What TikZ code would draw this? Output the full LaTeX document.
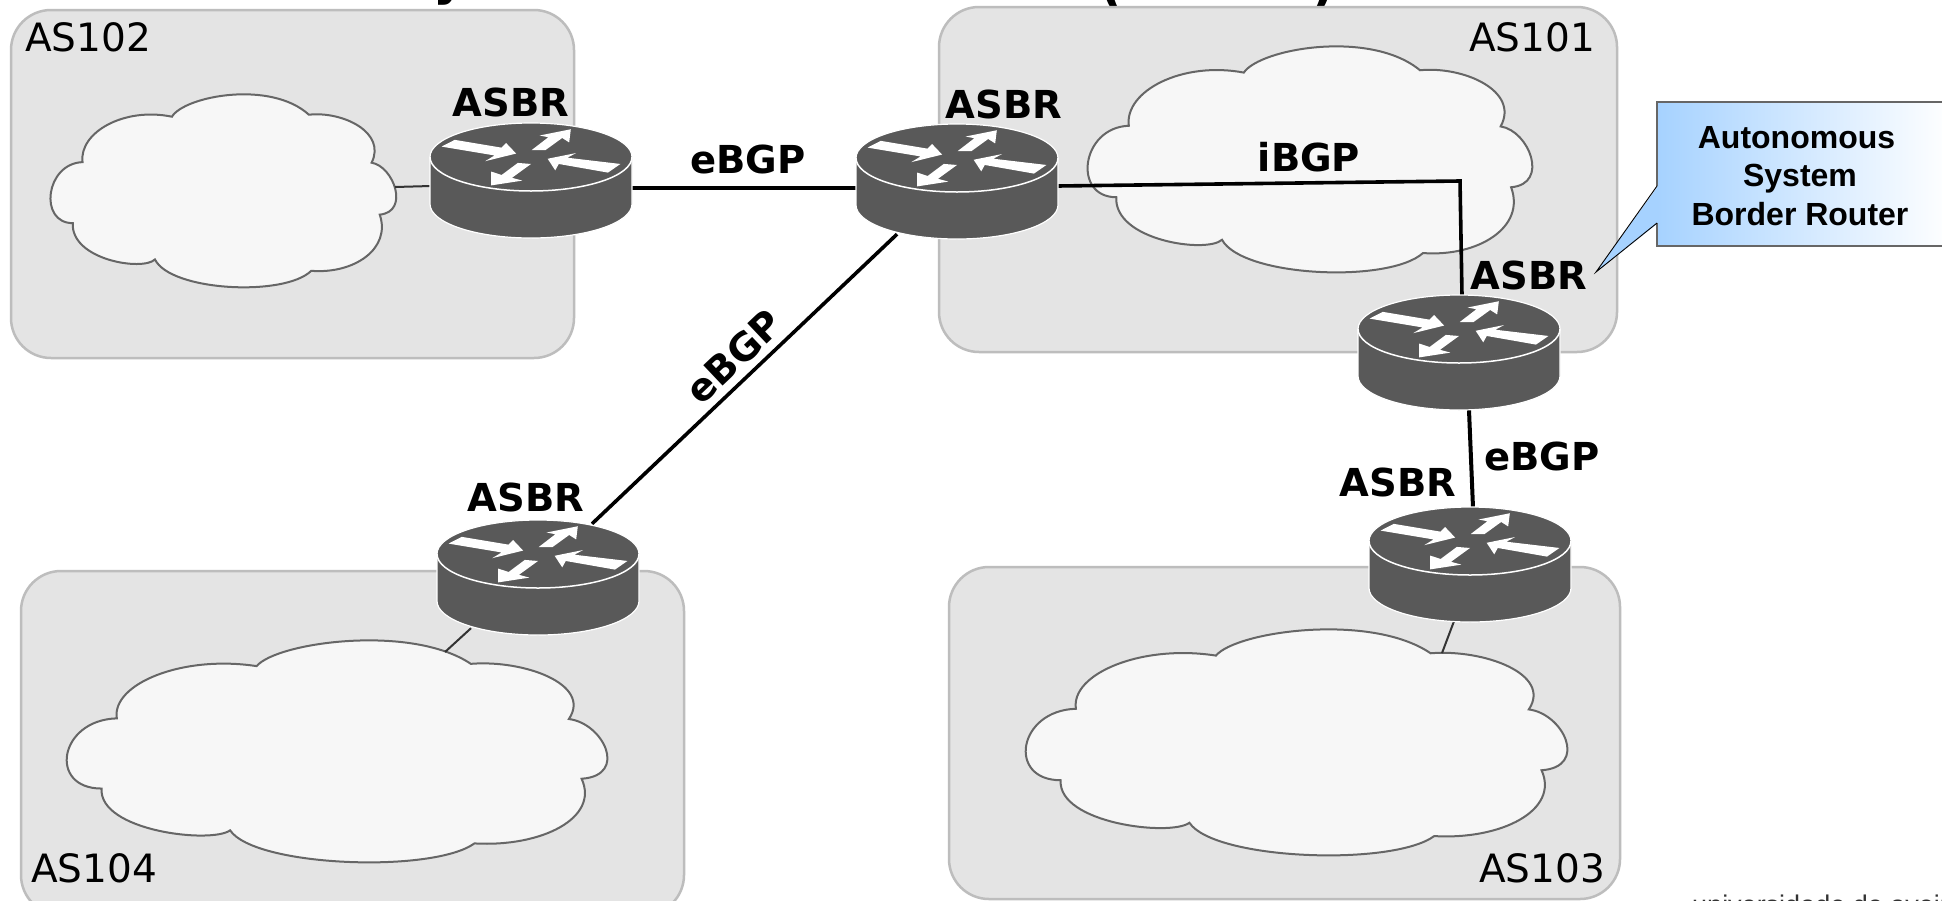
\documentclass[tikz,border=0pt]{standalone}
\usepackage{fontspec}
\setmainfont{DejaVu Sans}
\newfontfamily\calloutfont{Liberation Sans}
\usetikzlibrary{calc}
\definecolor{boxfill}{HTML}{E4E4E4}
\definecolor{boxline}{HTML}{BDBDBD}
\definecolor{cloudfill}{HTML}{F7F7F7}
\definecolor{cloudline}{HTML}{666666}
\definecolor{routerdark}{HTML}{595959}
\definecolor{calloutblue}{HTML}{A6D2FF}
\tikzset{
  asbox/.style={draw=boxline,fill=boxfill,line width=2.5pt,rounded corners=40pt},
  aslabel/.style={font=\fontsize{39}{42}\selectfont,inner sep=0pt},
  boldlabel/.style={font=\fontsize{38.5}{40}\selectfont\bfseries,inner sep=0pt},
  routernode/.style={minimum width=200pt,minimum height=114pt,inner sep=0pt},
  bgplink/.style={line width=4pt,black},
  thinlink/.style={line width=2pt,black!80},
  pics/routericon/.style={code={
    \fill[routerdark,draw=white,line width=1.2pt]
      (-101,0) .. controls (-101,-18.8) and (-55.8,-34) .. (0,-34)
      .. controls (55.8,-34) and (101,-18.8) .. (101,0)
      -- (101,47) .. controls (101,65.8) and (55.8,81) .. (0,81)
      .. controls (-55.8,81) and (-101,65.8) .. (-101,47) -- cycle;
    \draw[white,line width=1.5pt] (-101,0) .. controls (-101,18.8) and (-55.8,34) .. (0,34)
      .. controls (55.8,34) and (101,18.8) .. (101,0);
    \begin{scope}[scale=1.04]
    \fill[white] (-86,-10) -- (-73.3,-16.5) -- (-28.3,-9) -- (-24,-13.5) -- (-14.3,-3.3) -- (-44,4) -- (-35,-1.5) -- cycle;
    \fill[white] (0.7,-6.7) -- (16.7,-19) -- (8.3,-20.7) -- (38.3,-26.7) -- (36.7,-14) -- (30,-18.3) -- (14,-6.7) -- cycle;
    \fill[white] (16,1.7) -- (43.3,-3.8) -- (35,0.7) -- (86,6.7) -- (74,15) -- (26.7,6.7) -- (23.3,12.8) -- cycle;
    \fill[white] (0,6.7) -- (-12.7,5.7) -- (-28.3,17.3) -- (-38.3,14) -- (-38.3,27.3) -- (-8.3,22.7) -- (-18.3,20) -- cycle;
    \end{scope}
  }},
}
\newcommand{\cloudat}[4]{% left, top, width, height
  \begin{scope}[shift={(#1,#2)},xscale=#3/1490,yscale=#4/680]
    \path[fill=cloudfill,draw=cloudline,line width=2pt,line join=miter]
      (140,240) .. controls (125,135) and (320,45) .. (525,80)
      .. controls (580,7) and (950,-50) .. (1115,73)
      .. controls (1260,60) and (1450,135) .. (1385,242)
      .. controls (1480,255) and (1550,415) .. (1420,425)
      .. controls (1470,545) and (1310,635) .. (1125,623)
      .. controls (1010,715) and (520,695) .. (452,583)
      .. controls (400,625) and (90,585) .. (98,455)
      .. controls (-50,455) and (-20,245) .. (140,240) -- cycle;
  \end{scope}}
\begin{document}
\begin{tikzpicture}[x=1pt,y=-1pt]
\useasboundingbox (0,0) rectangle (1942,900);
\clip (0,0) rectangle (1942,900);
\fill[white] (0,0) rectangle (1942,900);

% clipped remains of title and footer
\node[anchor=base,inner sep=0pt,font=\fontsize{50}{50}\selectfont\bfseries] (titley) at (450,-6) {y};
\node[anchor=base,inner sep=0pt,font=\fontsize{50}{50}\selectfont\bfseries] (titleo) at (1112,3) {(};
\node[anchor=base,inner sep=0pt,font=\fontsize{50}{50}\selectfont\bfseries] (titlec) at (1323,3) {)};
\node[anchor=base west,inner sep=0pt,text=black!80,font=\calloutfont\fontsize{27}{30}\selectfont] (footer) at (1692,914) {universidade de aveiro};

% autonomous system areas
\path[asbox] (11,10) rectangle (574,358);
\path[asbox] (939,7) rectangle (1617,352);
\path[asbox] (21,571) rectangle (684,915);
\path[asbox] (949,567) rectangle (1620,899);

% clouds
\cloudat{50}{94}{346}{193}
\cloudat{1087}{46}{445}{226}
\cloudat{66}{640}{541}{222}
\cloudat{1025}{629}{542}{226}

% routers (anchors for connectors)
\node[routernode] (r1) at (531,181) {};
\node[routernode] (r2) at (957,182) {};
\node[routernode] (r3) at (1459,353) {};
\node[routernode] (r4) at (1470,565) {};
\node[routernode] (r5) at (538,578) {};

\coordinate (c1) at (395,187);
\coordinate (c3) at (445,652);
\coordinate (c4) at (1442,653);
\coordinate (bend) at (1460,181);

% connectors
\draw[thinlink] (c1) -- ($(r1.west)+(0,5)$);
\draw[thinlink] (c3) -- ($(r5.south)+(-67,-7)$);
\draw[thinlink] (c4) -- ($(r4.south)+(-16,-1)$);
\draw[bgplink] ($(r1.east)+(0,7)$) -- ($(r2.west)+(0,6)$);
\draw[bgplink,line width=3.6pt,line join=miter] ($(r2.east)+(0,4)$) -- (bend) -- ($(r3.north)+(3,0)$);
\draw[bgplink,line width=3.6pt] ($(r2.south)+(-60,-5)$) -- ($(r5.north)+(54,3)$);
\draw[bgplink] ($(r3.south)+(10,0)$) -- ($(r4.north)+(3,0)$);

% router icons
\pic at (531,157) {routericon};
\pic at (957,158) {routericon};
\pic at (1459,329) {routericon};
\pic at (1470,541) {routericon};
\pic at (538,554) {routericon};

% labels
\node[aslabel] (as102) at (88,37) {AS102};
\node[aslabel] (as101) at (1532,37) {AS101};
\node[aslabel] (as104) at (94,868) {AS104};
\node[aslabel] (as103) at (1542,868) {AS103};
\node[boldlabel] (l1) at (511,102) {ASBR};
\node[boldlabel] (l2) at (1004,104) {ASBR};
\node[boldlabel] (l3) at (1529,275) {ASBR};
\node[boldlabel] (l4) at (1398,482) {ASBR};
\node[boldlabel] (l5) at (526,497) {ASBR};
\node[boldlabel] (b1) at (748,159) {eBGP};
\node[boldlabel] (b2) at (1309,157) {iBGP};
\node[boldlabel,rotate=43.5] (b3) at (734,357) {eBGP};
\node[boldlabel] (b4) at (1542,456) {eBGP};

% callout
\fill[left color=calloutblue,right color=white] (1657,102) rectangle (1950,246);
\fill[calloutblue] (1658,186) -- (1596,272) -- (1658,223) -- cycle;
\draw[black!60,line width=1.5pt] (1657,186) -- (1657,102) -- (1950,102);
\draw[black!60,line width=1.2pt] (1657,223) -- (1657,246) -- (1950,246);
\draw[black,line width=0.9pt] (1657,186) -- (1596,272) -- (1657,223);
\node[align=center,inner sep=0pt,font=\calloutfont\fontsize{32}{38.5}\selectfont\bfseries] (callout) at (1800,176) {Autonomous\hspace*{7pt}\\System\\Border Router};
\end{tikzpicture}
\end{document}
